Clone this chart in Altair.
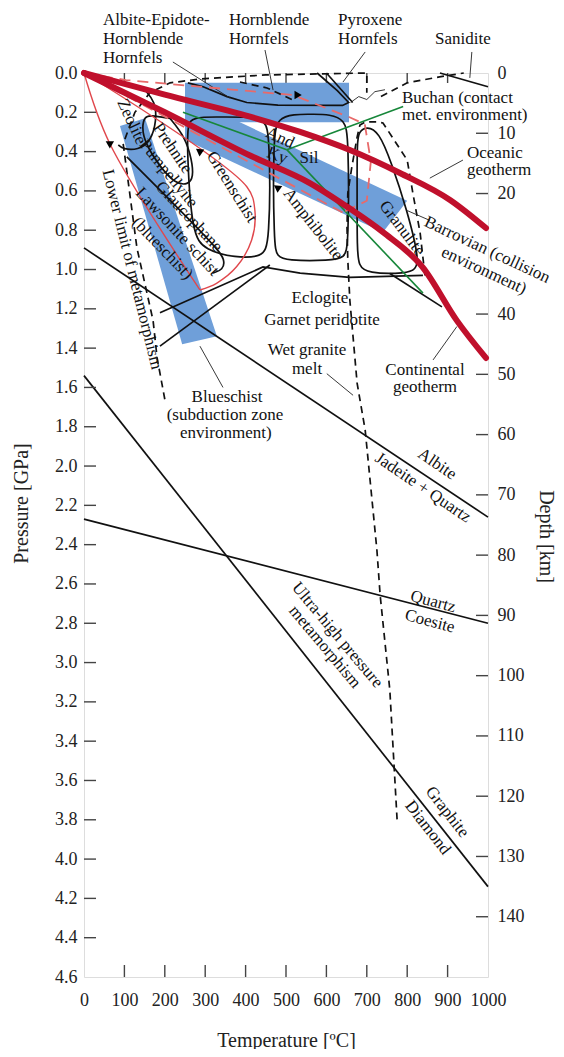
import altair as alt
import pandas as pd

FONT = "Liberation Serif"
W, H = 404, 904

# ---------------- axis ticks ----------------
T_TICKS = [0, 100, 200, 300, 400, 500, 600, 700, 800, 900, 1000]
P_TICKS = [0.0, 0.2, 0.4, 0.6, 0.8, 1.0, 1.2, 1.4, 1.6, 1.8, 2.0, 2.2, 2.4,
           2.6, 2.8, 3.0, 3.2, 3.4, 3.6, 3.8, 4.0, 4.2, 4.4, 4.6]
DEPTH_TICKS = [0, 10, 20, 40, 50, 60, 70, 80, 90, 100, 110, 120, 130, 140]
DEPTH_MAX = 150

# ---------------- blue fields (T degC, P GPa) ----------------
BUCHAN_BAND = [(250, 0.05), (656, 0.05), (656, 0.25), (250, 0.25), (250, 0.05)]
BARROVIAN_BAND = [(250, 0.12), (800, 0.65), (740, 0.81), (250, 0.34), (250, 0.12)]
BLUESCHIST_BAND = [(89, 0.27), (151, 0.23), (329, 1.34), (243, 1.38), (89, 0.27)]

# ---------------- geotherms ----------------
OCEANIC = [(0, 0.0), (200, 0.11), (411, 0.222), (535, 0.30), (658, 0.392),
           (782, 0.509), (906, 0.646), (995, 0.789)]
CONTINENTAL = [(0, 0.0), (200, 0.20), (411, 0.42), (559, 0.56), (658, 0.69),
               (740, 0.81), (839, 0.99), (923, 1.26), (995, 1.45)]

# ---------------- P-T paths ----------------
BLUESCHIST_PROGRADE = [(0, 0.0), (64, 0.36), (287, 1.104)]
BLUESCHIST_RETRO = [(287, 1.104), (328, 1.07), (378, 0.985), (415, 0.85),
                    (423, 0.70), (403, 0.579), (0, 0.0)]
BUCHAN_PATH = [(0, 0.0), (104, 0.036), (517, 0.112), (656, 0.224), (695, 0.26),
               (710, 0.45), (700, 0.65), (640, 0.71)]
BARROVIAN_RETRO = [(640, 0.71), (0, 0.0)]

# ---------------- aluminosilicate lines ----------------
AND_KY = [(245, 0.20), (502, 0.39)]
KY_SIL = [(502, 0.39), (839, 1.12)]
AND_SIL = [(502, 0.39), (790, 0.17)]

# ---------------- straight reaction lines ----------------
ALBITE_JADEITE = [(0, 0.89), (1000, 2.26)]
QUARTZ_COESITE = [(0, 2.27), (1000, 2.80)]
GRAPHITE_DIAMOND = [(0, 1.54), (1000, 4.14)]
SANIDITE_LINE = [(881, 0.0), (1000, 0.07)]
ECLOGITE_LOWER = [(188, 1.39), (460, 0.977)]
GRANULITE_TAIL = [(757, 1.02), (886, 1.19)]
PYROXENE_EDGE = [(600, 0.0), (665, 0.15)]
ECLOGITE_UPPER = [(188, 1.22), (443, 0.987), (535, 1.018), (658, 1.04), (839, 1.03)]
HORNFELS_SOLID = [(257, 0.05), (295, 0.07), (354, 0.12), (403, 0.15), (480, 0.163),
                  (640, 0.165), (655, 0.15), (627, 0.09), (577, 0.0)]

# ---------------- rounded facies outlines ----------------
ZEOLITE = [(151, 0.087), (176, 0.146), (180, 0.239), (165, 0.35), (134, 0.392),
           (97, 0.388), (85, 0.366)]
PREHNITE = [(213, 0.231), (250, 0.324), (267, 0.443), (271, 0.528),
            (258, 0.57), (225, 0.562), (188, 0.477), (151, 0.358), (143, 0.273),
            (151, 0.222), (163, 0.214), (213, 0.231)]
GREENSCHIST = [(340, 0.224), (411, 0.224), (448, 0.239), (460, 0.316), (460, 0.875),
               (441, 0.936), (374, 0.941), (300, 0.90), (267, 0.824), (255, 0.392),
               (257, 0.265), (267, 0.224), (340, 0.224)]
BLUESCHIST_EDGE = [(106, 0.427), (329, 0.886), (349, 0.951), (344, 1.002), (319, 1.018)]
AMPHIBOLITE = [(560, 0.21), (610, 0.21), (645, 0.24), (655, 0.32),
               (655, 0.88), (645, 0.94), (610, 0.955), (500, 0.955), (478, 0.93),
               (470, 0.88), (468, 0.32), (480, 0.23), (520, 0.21), (560, 0.21)]
GRANULITE = [(676, 0.60), (676, 0.35), (680, 0.30), (700, 0.27), (730, 0.30),
             (760, 0.45), (800, 0.70), (830, 0.95), (820, 1.0), (800, 1.02),
             (700, 1.02), (680, 0.98), (676, 0.90), (676, 0.60)]

# dashed black
LOWER_LIMIT = [(200, 1.66), (181, 1.45), (171, 1.26), (131, 0.89), (97, 0.36),
               (126, 0.20), (163, 0.10), (213, 0.05), (290, 0.03), (450, 0.01),
               (700, 0.0), (700, 0.10)]
HORNFELS_DASHED = [(386, 0.046), (453, 0.076), (517, 0.137)]
WET_GRANITE = [(844, 1.03), (832, 0.814), (814, 0.611), (800, 0.443), (740, 0.254),
               (725, 0.249), (696, 0.249), (683, 0.265), (676, 0.326), (663, 0.478),
               (653, 0.611), (651, 0.784), (653, 0.952), (658, 1.155), (676, 1.578),
               (696, 1.817), (725, 2.427), (733, 2.656), (757, 3.14), (775, 3.80)]
SANIDITE_DASHED = [(735, 0.12), (800, 0.05), (880, 0.02), (940, 0.0)]

# thin pointer lines
POINTERS = {
    "aeh": [(220, -0.056), (361, 0.127)],
    "hh": [(448, -0.117), (468, 0.087)],
    "ph": [(696, -0.107), (641, 0.046)],
    "san": [(960, -0.107), (955, 0.025)],
    "buchan": [(660, 0.15), (680, 0.12), (700, 0.135), (720, 0.095), (745, 0.085)],
    "ocean": [(856, 0.535), (938, 0.443)],
    "barr": [(800, 0.70), (856, 0.75)],
    "cont": [(864, 1.46), (923, 1.29)],
    "melt": [(601, 1.53), (666, 1.64)],
    "bs": [(287, 1.39), (344, 1.60)],
}

# ---------------- labels ----------------
TOP_TEXT = ["Albite-Epidote-", "Hornblende", "Hornfels", "Hornblende", "Hornfels",
            "Pyroxene", "Hornfels", "Sanidite", "Buchan (contact", "met. environment)",
            "Oceanic", "geotherm"]
TOP_T = [47, 47, 47, 359, 359, 629, 629, 869, 787, 787, 948, 948]
TOP_P = [-0.27, -0.173, -0.076, -0.27, -0.173, -0.27, -0.173, -0.173, 0.127, 0.214,
         0.407, 0.494]

LAB_TEXT = ["Eclogite", "Garnet peridotite", "Wet granite", "melt", "Blueschist",
            "(subduction zone", "environment)", "Continental", "geotherm",
            "Barrovian (collision", "environment)", "Albite", "Jadeite + Quartz",
            "Quartz", "Coesite", "Graphite", "Diamond", "Ultra-high pressure",
            "metamorphism", "Lower limit of metamorphism", "Zeolite", "Prehnite",
            "Pumpellyite", "Glaucophane", "Lawsonite schist", "(blueschist)",
            "Greenschist", "And", "Ky", "Sil", "Amphibolite", "Granulite"]
LAB_T = [584, 589, 552, 552, 354, 349, 351, 844, 844, 998, 990, 874, 839, 864, 856,
         899, 851, 627, 596, 119, 118, 219, 209, 260, 231, 194, 366, 485, 478, 557,
         567, 787]
LAB_P = [1.145, 1.257, 1.412, 1.508, 1.65, 1.74, 1.83, 1.51, 1.60, 0.90, 1.005, 1.99,
         2.11, 2.69, 2.79, 3.76, 3.84, 2.86, 2.92, 1.0, 0.248, 0.383, 0.511, 0.731,
         0.807, 0.892, 0.58, 0.33, 0.42, 0.43, 0.77, 0.79]
LAB_ANGLE = [0, 0, 0, 0, 0, 0, 0, 0, 0, 25, 25, 34, 34, 15, 15, 52, 52, 50, 50, 76,
             65, 56, 51, 47, 47, 46, 58, 25, 20, 0, 52, 53]

# arrowheads
ARROW_T = [527, 287, 480, 64]
ARROW_P = [0.112, 0.40, 0.585, 0.36]
ARROW_ANGLE = [90, 305, 305, 180]

# ---------------- helpers ----------------
title_style = dict(titleFont=FONT, titleFontSize=20, titleFontWeight="normal",
                   titleColor="#222", titleBaseline="middle", titleAlign="center")
label_style = dict(labelFont=FONT, labelFontSize=18, labelColor="#222",
                   labelOverlap=False, labelFlush=False,
                   domain=False, ticks=False, grid=False)

XS = alt.Scale(domain=[0, 1000], nice=False, zero=False)
YS = alt.Scale(domain=[0, 4.6], reverse=True, nice=False, zero=False)
XAXIS = alt.Axis(orient="bottom", values=T_TICKS, format="d", title="Temperature [ºC]",
                 labelPadding=14, titleX=W / 2, titleY=63, **label_style, **title_style)
X = alt.X("T:Q", scale=XS, axis=XAXIS)
Y = alt.Y("P:Q", scale=YS, axis=None)


def frame(groups):
    rows = []
    for gid, pts in groups.items():
        for i, (t, p) in enumerate(pts):
            rows.append({"g": gid, "i": i, "T": t, "P": p})
    return pd.DataFrame(rows)


def lines(groups, **mark):
    return alt.Chart(frame(groups)).mark_line(**mark).encode(
        x=X, y=Y, detail="g:N", order="i:Q")


tick_style = dict(color="#444", strokeWidth=1.4)

bottom = alt.Chart(pd.DataFrame({"T": T_TICKS[1:-1]})).mark_rule(**tick_style).encode(
    x=X, y=alt.value(H), y2=alt.value(H - 12))
top = alt.Chart(pd.DataFrame({"T": T_TICKS[1:-1]})).mark_rule(**tick_style).encode(
    x=X, y=alt.value(0), y2=alt.value(10))

blue = lines({"a": BUCHAN_BAND, "b": BARROVIAN_BAND, "c": BLUESCHIST_BAND},
             filled=True, color="#6f9fd9", strokeWidth=0)

black_straight = lines({"aj": ALBITE_JADEITE, "qc": QUARTZ_COESITE,
                        "gd": GRAPHITE_DIAMOND, "san": SANIDITE_LINE,
                        "ecl": ECLOGITE_LOWER, "grt": GRANULITE_TAIL,
                        "px": PYROXENE_EDGE, "ecu": ECLOGITE_UPPER,
                        "hs": HORNFELS_SOLID},
                       color="#111", strokeWidth=1.7)
black_round = lines({"zeo": ZEOLITE, "pre": PREHNITE, "gs": GREENSCHIST,
                     "bse": BLUESCHIST_EDGE, "amp": AMPHIBOLITE, "gra": GRANULITE},
                    color="#111", strokeWidth=1.7, interpolate="basis")
black_dash = lines({"ll": LOWER_LIMIT, "hd": HORNFELS_DASHED, "wg": WET_GRANITE,
                    "sd": SANIDITE_DASHED},
                   color="#111", strokeWidth=1.7, strokeDash=[7, 5])
pointers = lines(POINTERS, color="#222", strokeWidth=0.9)
green = lines({"ak": AND_KY, "ks": KY_SIL, "as": AND_SIL}, color="#17873a", strokeWidth=1.6)
red_thin = lines({"bp": BLUESCHIST_PROGRADE, "br": BLUESCHIST_RETRO},
                 color="#e0474c", strokeWidth=1.4, interpolate="catmull-rom")
red_dash = lines({"bu": BUCHAN_PATH, "ba": BARROVIAN_RETRO},
                 color="#e86a6a", strokeWidth=1.8, strokeDash=[11, 7])
red_thick = lines({"oc": OCEANIC, "co": CONTINENTAL}, color="#c0102c", strokeWidth=6,
                  strokeCap="round", interpolate="monotone")

arrows = alt.Chart(pd.DataFrame({"T": ARROW_T, "P": ARROW_P, "a": ARROW_ANGLE})).mark_point(
    shape="triangle", filled=True, color="#000", size=70, opacity=1).encode(
    x=X, y=Y, angle=alt.Angle("a:Q", scale=None))

top_text = alt.Chart(pd.DataFrame({"t": TOP_TEXT, "T": TOP_T, "P": TOP_P})).mark_text(
    font=FONT, fontSize=17, align="left", baseline="middle", color="#111").encode(
    x=X, y=Y, text="t:N")

lab_text = alt.Chart(pd.DataFrame({"t": LAB_TEXT, "T": LAB_T, "P": LAB_P,
                                   "a": LAB_ANGLE})).mark_text(
    font=FONT, fontSize=17, align="center", baseline="middle", color="#111").encode(
    x=X, y=Y, text="t:N", angle=alt.Angle("a:Q", scale=None))

left = alt.Chart(pd.DataFrame({"P": P_TICKS[1:-1]})).mark_rule(**tick_style).encode(
    y=alt.Y("P:Q", scale=YS, axis=alt.Axis(
        orient="left", values=P_TICKS, format=".1f", title="Pressure [GPa]",
        labelPadding=7, titleAngle=270, titleX=-63, titleY=430,
        **label_style, **title_style)),
    x=alt.value(0), x2=alt.value(12))
right = alt.Chart(pd.DataFrame({"D": DEPTH_TICKS[1:]})).mark_rule(**tick_style).encode(
    y=alt.Y("D:Q", scale=alt.Scale(domain=[0, DEPTH_MAX], reverse=True, nice=False),
            axis=alt.Axis(orient="right", values=DEPTH_TICKS, title="Depth [km]",
                          labelPadding=9, titleAngle=90, titleX=57, titleY=463,
                          **label_style, **title_style)),
    x=alt.value(W - 12), x2=alt.value(W))

chart = alt.layer(bottom, top, blue, black_straight, black_round, black_dash, pointers,
                  green, red_thin, red_dash, red_thick, arrows, top_text, lab_text,
                  left, right
                  ).resolve_scale(y="independent").properties(
    width=W, height=H,
    padding={"left": 76, "top": 65, "right": 68, "bottom": 72},
    autosize=alt.AutoSizeParams(type="none"),
).configure_view(stroke="#444", strokeWidth=1.5).configure(background="white")

chart.save("out.html", embed_options={"renderer": "svg", "actions": False})
